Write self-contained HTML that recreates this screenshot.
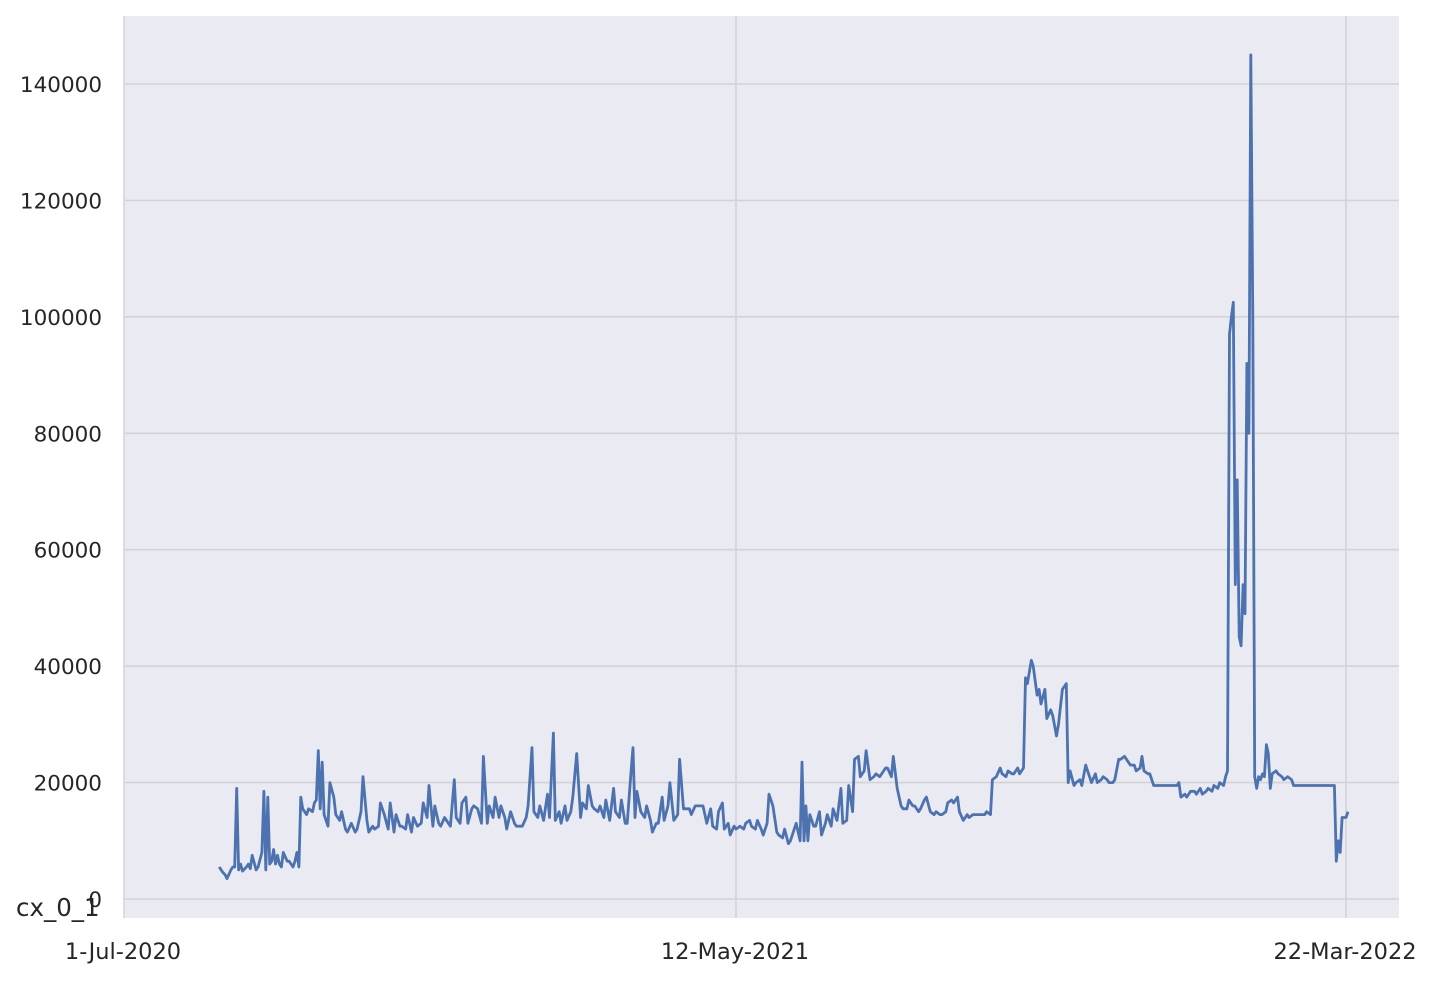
<!DOCTYPE html>
<html><head><meta charset="utf-8"><style>
html,body{margin:0;padding:0;background:#fff;}
svg text{font-family:"DejaVu Sans","Liberation Sans",sans-serif;fill:#262626;}
</style></head><body>
<svg id="chart" width="1434" height="978" xmlns="http://www.w3.org/2000/svg">
<rect x="125" y="16" width="1274" height="902" fill="#eaeaf2"/>
<g id="grid"></g>
<g id="series"></g>
<g id="labels"></g>
</svg>
<script>
const days = [49,51,52,53,55,56,57,58,59,60,61,63,64,65,66,68,69,71,72,73,74,75,76,77,78,79,80,81,82,84,85,87,88,89,90,
91,92,94,95,97,98,99,100,101,102,103,105,106,108,109,111,112,114,115,117,119,120,122,123,125,126,128,129,131,132,134,136,137,139,140,142,143,145,146,148,149,151,153,154,156,157,159,160,162,163,165,167,168,170,171,173,174,176,177,179,180,182,184,185,187,188,190,191,193,194,196,197,199,201,202,204,205,207,208,210,211,213,214,216,218,219,221,222,224,225,227,228,230,231,233,235,236,238,239,241,242,244,245,247,248,250,252,253,255,256,258,259,261,262,263,264,266,268,269,271,272,274,275,277,278,280,281,283,285,286,288,289,291,292,294,295,297,298,300,302,303,305,306,308,309,311,312,314,315,317,319,320,322,323,325,326,328,329,331,332,334,336,337,339,340,342,343,345,346,348,349,350,351,352,353,355,356,358,359,361,362,364,365,367,369,370,372,373,375,376,378,379,381,382,384,386,387,389,390,392,393,395,396,398,400,401,403,404,406,407,409,410,412,413,415,417,418,420,421,423,424,426,427,429,430,432,434,435,437,438,440,441,443,444,446,447,449,451,452,454,455,457,458,460,461,463,464,465,467,468,470,471,472,474,475,477,478,480,481,483,485,486,487,489,490,492,493,495,496,498,500,501,503,504,506,507,509,510,512,513,515,517,518,520,521,523,524,525,527,528,530,531,533,535,536,538,539,541,542,543,544,546,547,549,551,552,554,555,557,558,560,561,563,564,566,567,568,569,570,571,572,573,574,575,576,577,578,579,580,581,582,583,584,585,586,587,588,589,590,591,593,594,596,597,599,601,602,604,611,617,623,624,625,626,627,629,630];
const values = [5.5,4.5,4.2,3.5,5,5.5,5.5,19,5,6,4.8,5.5,6,5.2,7.5,5,5.5,8,18.5,5,17.5,6,6.5,8.5,6,7.5,6,5.5,8,6.5,6.5,5.5,6.5,8,5.5,
17.5,15.5,14.5,15.5,15,16.5,17,25.5,15.5,23.5,14.5,12.5,20,17.5,14.5,13.5,15,12,11.5,13,11.5,12,15,21,13.5,11.5,12.5,12,12.5,16.5,14.5,12,16.5,11.5,14.5,12.5,12.5,12,14.5,11.5,14,12.5,13,16.5,14,19.5,12.5,16,13,12.5,14,13,12.5,20.5,14,13,16.5,17.5,13,15.5,16,15.5,13,24.5,13,16,14,17.5,14,16,14,12,15,13,12.5,12.5,12.5,14,16,26,15,14,16,13.5,18,14,28.5,13.5,15,13,16,13.5,15,17.5,25,14,16.5,15.5,19.5,16,15.5,15,16,14,17,13.5,19,15,14,17,13,13,22,26,14,18.5,15,14,16,13.5,11.5,13,13,17.5,13.5,16,20,13.5,14.5,24,15.5,15.5,15.5,14.5,16,16,16,16,13,15.5,12.5,12,15,16.5,12,13,11,12.5,12,12.5,12,13,13.5,12.5,12,13.5,12,11,13,18,16,11.5,11,10.5,12,9.5,10,12,13,10,23.5,10,16,10,14.5,12.5,12.5,15,11,13,14.5,12.5,15.5,13.5,19,13,13.5,19.5,15,24,24.5,21,22,25.5,20.5,21,21.5,21,21.5,22.5,22.5,21,24.5,19,16,15.5,15.5,17,16,16,15,15.5,17,17.5,15,14.5,15,14.5,14.5,15,16.5,17,16.5,17.5,15,13.5,14.5,14,14.5,14.5,14.5,14.5,14.5,15,14.5,20.5,21,22.5,21.5,21,22,21.5,21.5,22.5,21.5,22.5,38,37,41,40,35,36,33.5,36,31,32.5,31.5,28,30,36,37,20,22,19.5,20,20.5,19.5,23,22,20,21.5,20,20.5,21,20.5,20,20,20.5,24,24,24.5,23.5,23,23,22,22.5,24.5,22,21.5,21.5,19.5,19.5,19.5,19.5,19.5,19.5,19.5,19.5,19.5,20,17.5,18,17.5,18.5,18.5,18,19,18,18.5,19,18.5,19.5,19,20,19.5,21,22,97,100,102.5,54,72,45,43.5,54,49,92,80,145,100,21,19,21,20.5,21.5,21,26.5,25,19,21.5,22,21.5,21,20.5,21,20.5,19.5,19.5,19.5,19.5,19.5,6.5,10,8,14,14,15];
const yTicks = [0,20000,40000,60000,80000,100000,120000,140000];
const xTickDays = [0,315,629];
const xTickLabels = ["1-Jul-2020","12-May-2021","22-Mar-2022"];

const NS="http://www.w3.org/2000/svg";
const xS = d => 124 + d*1.9428;
const yS = v => 899 - v/20000*116.43;
const grid=document.getElementById('grid'), series=document.getElementById('series'), labels=document.getElementById('labels');
function mk(tag, attrs, parent){const e=document.createElementNS(NS,tag);for(const k in attrs)e.setAttribute(k,attrs[k]);parent.appendChild(e);return e;}
yTicks.forEach(t=>{
  const l=mk('line',{x1:125,x2:1399,y1:yS(t),y2:yS(t),stroke:'#d3d3d6','stroke-width':1.6},grid);
  
  
  const tx=mk('text',{x:102,y:yS(t)+8,'text-anchor':'end','font-size':21.5},labels);
  tx.textContent=String(t);
  
  
});
xTickDays.forEach((d,i)=>{
  const l=mk('line',{x1:xS(d),x2:xS(d),y1:16,y2:918,stroke:'#d3d3d6','stroke-width':1.6},grid);
  
  
  const tx=mk('text',{x:xS(d)-1,y:959,'text-anchor':'middle','font-size':22.5},labels);
  tx.textContent=xTickLabels[i];
  
  
});
let dstr='';
days.forEach((d,i)=>{dstr+=(i?'L':'M')+xS(d).toFixed(1)+','+yS(values[i]*1000).toFixed(1);});
const p=mk('path',{d:dstr,fill:'none',stroke:'#4c72b0','stroke-width':2.8,'stroke-linejoin':'round'},series);


const yl=mk('text',{x:16,y:916,'font-size':24.5},labels);
yl.textContent='cx_0_1';


</script>
</body></html>
